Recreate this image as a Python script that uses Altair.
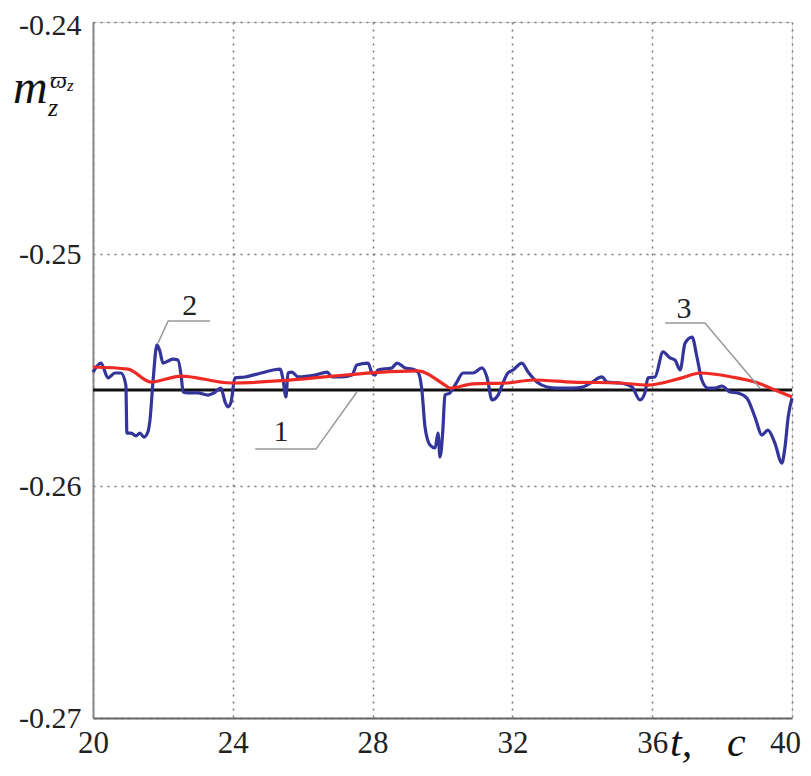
import altair as alt
import pandas as pd

# ---- data ----
blue_t = [20.00, 20.23, 20.43, 20.63, 20.80, 20.94, 20.97, 21.09, 21.23, 21.34, 21.46, 21.57, 21.63, 21.72,
          21.83, 21.92, 22.00, 22.15, 22.29, 22.43, 22.52, 22.58, 22.72, 23.00, 23.29, 23.46, 23.66, 23.78,
          23.86, 23.95, 24.06, 24.35, 24.81, 25.35, 25.44, 25.52, 25.58, 25.69, 25.87, 26.35, 26.70, 26.84,
          27.12, 27.41, 27.55, 27.87, 27.98, 28.07, 28.15, 28.55, 28.70, 28.93, 29.13, 29.30, 29.41, 29.50,
          29.64, 29.79, 29.87, 29.93, 30.01, 30.07, 30.21, 30.41, 30.59, 30.87, 31.13, 31.27, 31.42, 31.59,
          31.73, 31.87, 32.02, 32.27, 32.45, 32.70, 32.99, 33.28, 33.73, 34.02, 34.28, 34.56, 34.71, 35.08,
          35.42, 35.65, 35.79, 35.88, 36.08, 36.31, 36.51, 36.65, 36.80, 36.94, 37.14, 37.28, 37.42, 37.60,
          37.80, 38.00, 38.23, 38.45, 38.71, 38.94, 39.14, 39.31, 39.51, 39.71, 39.80, 39.89, 40.00]
blue_m = [-0.25509, -0.25470, -0.25534, -0.25513, -0.25513, -0.25565, -0.25772, -0.25772, -0.25784, -0.25772,
          -0.25789, -0.25767, -0.25716, -0.25543, -0.25392, -0.25422, -0.25470, -0.25461, -0.25453, -0.25457,
          -0.25522, -0.25595, -0.25599, -0.25599, -0.25608, -0.25599, -0.25578, -0.25638, -0.25659, -0.25638,
          -0.25534, -0.25530, -0.25513, -0.25496, -0.25543, -0.25616, -0.25513, -0.25509, -0.25530, -0.25522,
          -0.25509, -0.25530, -0.25530, -0.25522, -0.25478, -0.25470, -0.25513, -0.25522, -0.25500, -0.25491,
          -0.25470, -0.25491, -0.25496, -0.25509, -0.25586, -0.25746, -0.25823, -0.25836, -0.25772, -0.25875,
          -0.25759, -0.25608, -0.25599, -0.25552, -0.25513, -0.25513, -0.25491, -0.25530, -0.25629, -0.25608,
          -0.25556, -0.25513, -0.25500, -0.25470, -0.25509, -0.25552, -0.25573, -0.25578, -0.25578, -0.25573,
          -0.25552, -0.25530, -0.25552, -0.25556, -0.25573, -0.25629, -0.25599, -0.25534, -0.25530, -0.25422,
          -0.25448, -0.25457, -0.25500, -0.25384, -0.25358, -0.25444, -0.25543, -0.25578, -0.25578, -0.25569,
          -0.25595, -0.25599, -0.25621, -0.25703, -0.25780, -0.25759, -0.25815, -0.25901, -0.25832, -0.25703,
          -0.25621]

red_t = [20.00, 21.00, 21.66, 22.52, 23.95, 29.30, 30.07, 30.21, 30.87, 31.85, 32.59, 33.73, 35.08, 35.88,
         36.85, 37.37, 38.28, 39.03, 39.51, 40.00]
red_m = [-0.25487, -0.25496, -0.25552, -0.25526, -0.25556, -0.25504, -0.25565, -0.25578, -0.25560, -0.25556,
         -0.25543, -0.25552, -0.25556, -0.25565, -0.25534, -0.25513, -0.25530, -0.25556, -0.25586, -0.25616]

black_t = [20.0, 40.0]
black_m = [-0.25586, -0.25586]

x_ticks = [20, 24, 28, 32, 36, 40]
y_ticks = [-0.27, -0.26, -0.25, -0.24]

label_text = ["1", "2", "3"]
label_t = [25.38, 22.77, 36.91]
label_m = [-0.25767, -0.25224, -0.25237]

leader_id = ["1", "1", "1", "2", "2", "2", "3", "3", "3"]
leader_order = [0, 1, 2, 0, 1, 2, 0, 1, 2]
leader_t = [24.64, 26.38, 27.55, 21.86, 22.15, 23.35, 36.37, 37.51, 39.08]
leader_m = [-0.25841, -0.25841, -0.25595, -0.25384, -0.25289, -0.25289, -0.25297, -0.25297, -0.25578]

# ---- tables ----
black_df = pd.DataFrame({"t": black_t, "m": black_m})
blue_df = pd.DataFrame({"t": blue_t, "m": blue_m})
red_df = pd.DataFrame({"t": red_t, "m": red_m})
labels = pd.DataFrame({"t": label_t, "m": label_m, "txt": label_text})
leaders = pd.DataFrame({"t": leader_t, "m": leader_m, "id": leader_id, "o": leader_order})

FONT = "'Liberation Serif', 'Times New Roman', Times, serif"
xs = alt.Scale(domain=[20, 40], nice=False, zero=False)
ys = alt.Scale(domain=[-0.27, -0.24], nice=False, zero=False)

x_axis = alt.Axis(values=x_ticks, grid=True, gridDash=[2, 5], gridColor="#777", gridWidth=1.5,
                  ticks=False, domainColor="#666", domainWidth=2, labelFont=FONT, labelFontSize=31,
                  labelColor="#222", labelPadding=10, title=None, labelFlush=False,
                  labelOffset=alt.condition("datum.value == 40", alt.value(-7), alt.value(0)))
y_axis = alt.Axis(values=y_ticks, grid=True, gridDash=[2, 5], gridColor="#777", gridWidth=1.5,
                  ticks=False, domainColor="#888", domainWidth=2, labelFont=FONT, labelFontSize=30,
                  labelColor="#222", labelPadding=12, title=None,
                  labelExpr="'-' + format(abs(datum.value), '.2f')", labelFlush=False,
                  labelOffset=alt.condition("datum.value == -0.24", alt.value(3), alt.value(0)))

black = alt.Chart(black_df).mark_line(strokeWidth=3, color="#111111").encode(
    x=alt.X("t:Q", scale=xs, axis=x_axis), y=alt.Y("m:Q", scale=ys, axis=y_axis))
blue = alt.Chart(blue_df).mark_line(strokeWidth=3.2, color="#34359a", interpolate="monotone").encode(
    x=alt.X("t:Q", scale=xs), y=alt.Y("m:Q", scale=ys))
red = alt.Chart(red_df).mark_line(strokeWidth=3.2, color="#ee2a24", interpolate="monotone").encode(
    x=alt.X("t:Q", scale=xs), y=alt.Y("m:Q", scale=ys))

lead = alt.Chart(leaders).mark_line(color="#999999", strokeWidth=1.5).encode(
    x=alt.X("t:Q", scale=xs), y=alt.Y("m:Q", scale=ys), detail="id:N", order="o:Q")
lab = alt.Chart(labels).mark_text(font=FONT, fontSize=30, color="#222").encode(
    x=alt.X("t:Q", scale=xs), y=alt.Y("m:Q", scale=ys), text="txt:N")

def txt(s, x, y, size, italic=True):
    return alt.Chart(pd.DataFrame({"a": [s]})).mark_text(
        font=FONT, fontSize=size, fontStyle="italic" if italic else "normal", align="left",
        baseline="alphabetic", color="#111").encode(x=alt.value(x), y=alt.value(y), text="a:N")

titles = [
    txt("m", -80, 81, 48),
    txt("z", -45, 94, 26),
    txt("\u03d6", -43, 66, 24),
    txt("z", -26, 69, 17),
    txt("t,", 577, 734, 42),
    txt("c", 634, 734, 42),
]

chart = alt.layer(black, blue, red, lead, lab, *titles).properties(
    width=699, height=696,
    autosize=alt.AutoSizeParams(type="none"),
    padding={"left": 85, "top": 14, "right": 11, "bottom": 49},
).configure_view(stroke=None).configure(background="white")

chart.save("out.html", embed_options={"renderer": "svg", "actions": False})
